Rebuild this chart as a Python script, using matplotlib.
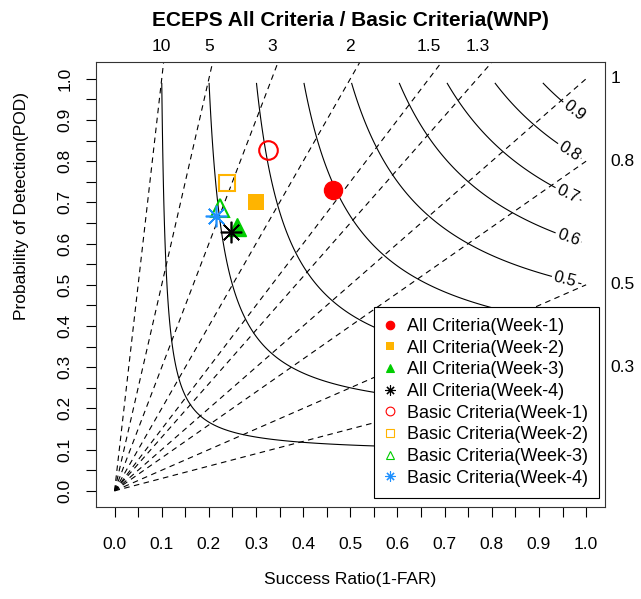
import numpy as np
import matplotlib
matplotlib.use('Agg')
import matplotlib.pyplot as plt
from matplotlib.lines import Line2D
from matplotlib.ticker import MultipleLocator

plt.rcParams['font.family'] = ['Liberation Sans', 'DejaVu Sans']

# Bias lines (dashed): labelled on top / on the right
bias_top = [10, 5, 3, 2, 1.5, 1.3]
bias_right = [1, 0.8, 0.5, 0.3]

# CSI contours (solid); the lower ones have their labels hidden by the legend
csi_plain = [0.1, 0.2, 0.3, 0.4]
csi_labelled = [0.5, 0.6, 0.7, 0.8, 0.9]
csi_label_pos = [(0.958, 0.525), (0.962, 0.614), (0.962, 0.724),
                 (0.958, 0.813), (0.966, 0.911)]

# Verification points
point_labels = ['All Criteria(Week-1)', 'All Criteria(Week-2)',
                'All Criteria(Week-3)', 'All Criteria(Week-4)',
                'Basic Criteria(Week-1)', 'Basic Criteria(Week-2)',
                'Basic Criteria(Week-3)', 'Basic Criteria(Week-4)']
success_ratio = [0.463, 0.299, 0.259, 0.247, 0.326, 0.238, 0.223, 0.215]
pod = [0.730, 0.700, 0.640, 0.629, 0.826, 0.746, 0.686, 0.667]

red, orange, green, blue = '#FF0000', '#FFB400', '#00CD00', '#1E90FF'
styles = [
    dict(marker='o', ms=13, color=red, mfc=red, mew=1),
    dict(marker='s', ms=11.3, color=orange, mfc=orange, mew=0),
    dict(marker='^', ms=12.5, color=green, mfc=green, mew=1),
    dict(marker=(8, 2, 0), ms=15.5, color='black', mew=1.2),
    dict(marker='o', ms=13.4, color=red, mfc='none', mew=1.5),
    dict(marker='s', ms=11, color=orange, mfc='none', mew=1.5),
    dict(marker='^', ms=12.6, color=green, mfc='none', mew=1.5),
    dict(marker=(8, 2, 0), ms=15.5, color=blue, mew=1.2),
]

fig = plt.figure(figsize=(6.41, 5.99), dpi=100)
ax = fig.add_axes([0.1493, 0.1531, 0.7945, 0.7429])
ax.set_xlim(-0.04, 1.04)
ax.set_ylim(-0.04, 1.04)

# CSI contours
sr_grid = np.linspace(0.01, 0.99, 197)
pod_grid = np.linspace(0.01, 0.99, 197)
SR, POD = np.meshgrid(sr_grid, pod_grid)
CSI = 1.0 / (1.0 / SR + 1.0 / POD - 1.0)
ax.contour(SR, POD, CSI, levels=csi_plain, colors='black', linewidths=0.8)
cs = ax.contour(SR, POD, CSI, levels=csi_labelled, colors='black', linewidths=0.8)
ax.clabel(cs, manual=csi_label_pos, inline=True, inline_spacing=2,
          fmt='%.1f', fontsize=12)

# Bias lines, drawn from the origin to (1, bias) and clipped by the box
for b in bias_top + bias_right:
    ax.plot([0, 1], [0, b], color='black', lw=0.8, linestyle=(0, (5, 4)))
for b in bias_top:
    ax.text(1.0 / b, 1.078, f'{b:g}', ha='center', va='center', fontsize=12.5,
            clip_on=False)
for b in bias_right:
    ax.text(1.052, b, f'{b:g}', ha='left', va='center', fontsize=12.5,
            clip_on=False)

# Points (and smaller, thinner copies for the legend)
handles = []
for x, y, lab, st in zip(success_ratio, pod, point_labels, styles):
    ax.plot([x], [y], linestyle='none', zorder=5, **st)
    small = dict(st)
    small['ms'] = st['ms'] * 0.47
    small['mew'] = min(st['mew'], 0.8)
    handles.append(Line2D([], [], linestyle='none', label=lab, **small))

leg = ax.legend(handles=handles, loc='upper left', bbox_to_anchor=(0.551, 0.446),
                bbox_transform=ax.transData, fontsize=13,
                frameon=True, fancybox=False, framealpha=1, edgecolor='black',
                borderpad=0.6, handlelength=0.5, handletextpad=0.7,
                labelspacing=0.26, borderaxespad=0)
leg.get_frame().set_linewidth(0.8)
leg.set_zorder(10)

# Axes, ticks, labels
ticks = np.round(np.arange(0, 1.01, 0.1), 1)
ax.set_xticks(ticks)
ax.set_yticks(ticks)
ax.xaxis.set_minor_locator(MultipleLocator(0.05))
ax.yaxis.set_minor_locator(MultipleLocator(0.05))
ax.set_xticklabels([f'{t:.1f}' for t in ticks])
ax.set_yticklabels([f'{t:.1f}' for t in ticks], rotation=90, va='center')
ax.tick_params(which='both', direction='out', length=7.5, width=0.8,
               labelsize=12.5)
ax.tick_params(axis='x', which='major', pad=14)
ax.tick_params(axis='y', which='major', pad=9)
for s in ax.spines.values():
    s.set_linewidth(0.8)
    s.set_color('#333333')

ax.set_xlabel('Success Ratio(1-FAR)', fontsize=12.5)
ax.set_ylabel('Probability of Detection(POD)', fontsize=12.5)
ax.xaxis.set_label_coords(0.5, -0.163)
ax.xaxis.label.set_va('center')
ax.yaxis.set_label_coords(-0.145, 0.676)
ax.yaxis.label.set_va('center')

fig.text(0.546, 1 - 20 / 599, 'ECEPS All Criteria / Basic Criteria(WNP)',
         ha='center', va='center', fontsize=15, fontweight='bold')

fig.savefig('out.png', dpi=100)
